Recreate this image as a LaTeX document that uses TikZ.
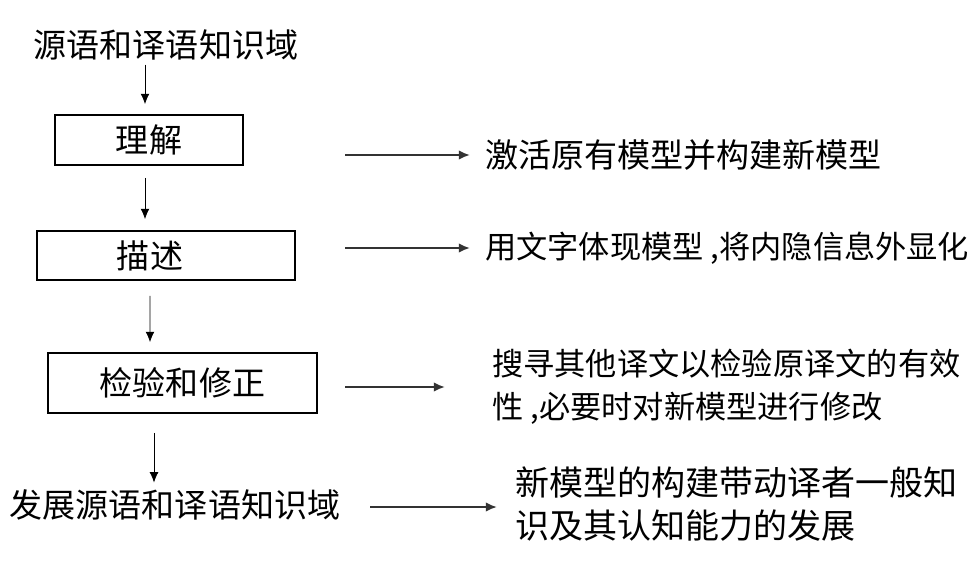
\documentclass[tikz,border=0pt]{standalone}
\usepackage{fontspec}
\setmainfont{Noto Sans CJK SC}
\usepackage{tikz}
\usetikzlibrary{arrows.meta}

\begin{document}
\begin{tikzpicture}[
    txt/.style={inner sep=0pt, font=\fontsize{23.5}{30.5}\selectfont},
    stepbox/.style={draw, line width=1.2pt, inner sep=0pt, font=\fontsize{23.5}{30.5}\selectfont},
    varrow/.style={line width=0.6pt, -{Latex[length=2.6mm,width=2.2mm]}},
    harrow/.style={line width=1.5pt, black!80, shorten >=0.375cm, -{Latex[length=2.8mm,width=2.4mm]}}
]
\useasboundingbox (0,0) rectangle (24.5,-14.375);

%left column
    \node[txt] (src) at (4.15,-1.125) {源语和译语知识域};
    \node[stepbox, minimum width=4.7cm, minimum height=1.25cm] (box1) at (3.725,-3.5) {理解};
    \node[stepbox, minimum width=6.45cm, minimum height=1.225cm,
          label={[txt, xshift=-0.4cm]center:描述}] (box2) at (4.15,-6.3875) {};
    \node[stepbox, minimum width=6.725cm, minimum height=1.5cm] (box3) at (4.5625,-9.575) {检验和修正};
    \node[txt] (dev) at (4.375,-12.625) {发展源语和译语知识域};

%vertical arrows
    \draw[varrow, shorten <=0.1cm, shorten >=0.25cm] ([xshift=-0.525cm]src.south) -- ([xshift=-0.1cm]box1.north);
    \draw[varrow, shorten <=0.3cm, shorten >=0.275cm] ([xshift=-0.1cm]box1.south) -- ([xshift=-0.525cm]box2.north);
    \draw[varrow, shorten <=0.375cm, shorten >=0.25cm] ([xshift=-0.4cm]box2.south) -- ([xshift=-0.8125cm]box3.north);
    \draw[varrow, shorten <=0.475cm, shorten >=0.17cm] ([xshift=-0.7125cm]box3.south) -- ([xshift=-0.525cm]dev.north);

%right column
    \node[txt, anchor=west] (t1) at (12.125,-3.875) {激活原有模型并构建新模型};
    \node[txt, anchor=west, font=\fontsize{22.2}{30.5}\selectfont] (t2) at (12.125,-6.2) {用文字体现模型 ,将内隐信息外显化};
    \node[txt, anchor=west, align=left, font=\fontsize{22.2}{30.5}\selectfont] (t3) at (12.3,-9.66) {搜寻其他译文以检验原译文的有效\\性 ,必要时对新模型进行修改};
    \node[txt, anchor=west, align=left, font=\fontsize{24.2}{30.6}\selectfont] (t4) at (12.875,-12.6) {新模型的构建带动译者一般知\\识及其认知能力的发展};

%horizontal arrows
    \coordinate (a1) at (8.625,-3.875);
    \coordinate (a2) at (8.625,-6.2);
    \coordinate (a3) at (8.625,-9.675);
    \coordinate (a4) at (9.25,-12.675);
    \draw[harrow] (a1) -- (a1 -| t1.west);
    \draw[harrow] (a2) -- (a2 -| t2.west);
    \draw[harrow, shorten >=1.175cm] (a3) -- (a3 -| t3.west);
    \draw[harrow, shorten >=0.45cm] (a4) -- (a4 -| t4.west);

\end{tikzpicture}
\end{document}
